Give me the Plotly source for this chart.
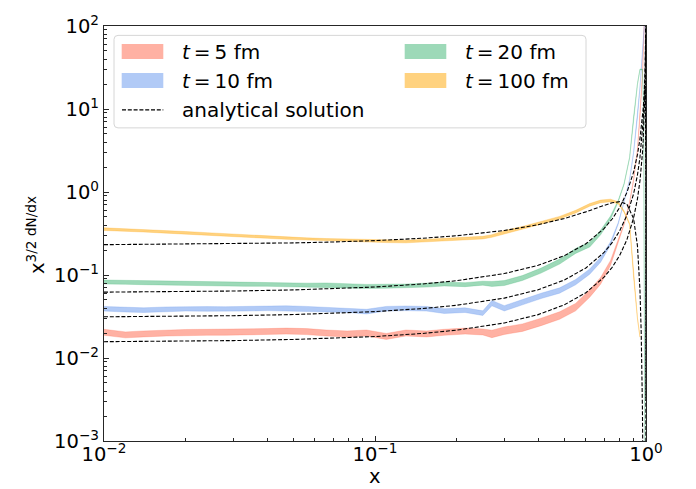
import plotly.graph_objects as go

# ---------------- data ----------------
xs = [0.010, 0.012, 0.014, 0.017, 0.020, 0.024, 0.028, 0.033, 0.040, 0.047,
      0.056, 0.066, 0.079, 0.093, 0.11, 0.13, 0.155, 0.18, 0.215, 0.25,
      0.27, 0.30, 0.35, 0.41, 0.48, 0.55, 0.62, 0.68, 0.74, 0.79,
      0.83, 0.87, 0.90, 0.93, 0.95, 0.97, 0.98, 0.99, 0.995]

t5_mid = [0.0204, 0.0190, 0.0195, 0.0200, 0.0203, 0.0204, 0.0204, 0.0206, 0.0208, 0.0211,
          0.0208, 0.0200, 0.0195, 0.0200, 0.0182, 0.0200, 0.0195, 0.0204, 0.0211, 0.0206,
          0.0195, 0.0213, 0.0232, 0.0272, 0.0325, 0.0410, 0.0600, 0.0850, 0.140, 0.260,
          0.410, 0.750, 1.40, 3.20, 8.0, 25.0, 60.0, 150.0, 300.0]
t10_mid = [0.0392, 0.0382, 0.0377, 0.0387, 0.0392, 0.0390, 0.0389, 0.0392, 0.0397, 0.0399,
           0.0392, 0.0382, 0.0377, 0.0362, 0.0392, 0.0397, 0.0392, 0.0367, 0.0377, 0.0347,
           0.0458, 0.0397, 0.0470, 0.0560, 0.0650, 0.0820, 0.110, 0.153, 0.240, 0.420,
           0.750, 1.40, 3.00, 8.00, 18.0, 45.0, 80.0, 120.0, 100.0]
t20_mid = [0.0824, 0.0816, 0.0808, 0.0797, 0.0787, 0.0780, 0.0776, 0.0772, 0.0772, 0.0765,
           0.0755, 0.0759, 0.0736, 0.0729, 0.0733, 0.0736, 0.0755, 0.0780, 0.0765, 0.0797,
           0.0780, 0.0800, 0.0920, 0.113, 0.145, 0.195, 0.233, 0.325, 0.490, 0.780,
           1.25, 2.60, 8.00, 20.0, 30.0, 30.0, 10.0, 0.001, None]
t100_mid = [0.357, 0.349, 0.342, 0.331, 0.322, 0.312, 0.303, 0.295, 0.287, 0.279,
            0.270, 0.265, 0.261, 0.260, 0.255, 0.253, 0.260, 0.265, 0.274, 0.282,
            0.295, 0.330, 0.370, 0.425, 0.490, 0.580, 0.700, 0.770, 0.790, 0.740,
            0.580, 0.410, 0.095, 0.030, 0.018, None, None, None, None]

# band half-widths (log10 units)
t5_w = [0.036] * 20 + [0.045] * 7 + [0.040, 0.030, 0.015, 0.008] + [0.005] * 8
t10_w = [0.028] * 20 + [0.032] * 7 + [0.030, 0.020, 0.010, 0.006] + [0.004] * 8
t20_w = [0.024] * 20 + [0.030] * 7 + [0.028, 0.020, 0.010, 0.006] + [0.004] * 8
t100_w = [0.016] * 29 + [0.012, 0.010, 0.008, 0.006, 0.005, 0.004, 0.004, 0.004, 0.004, 0.004]

# analytical solution curves
xa = [0.01, 0.02, 0.03, 0.05, 0.07, 0.1, 0.15, 0.2, 0.3, 0.4, 0.5, 0.6, 0.7, 0.75, 0.8,
      0.85, 0.9, 0.93, 0.95, 0.96, 0.97, 0.975, 0.98, 0.985, 0.99, 0.993, 0.995, 0.997,
      0.998, 0.999, 0.9995, 0.9998, 0.9999]
an_t5 = [0.015723, 0.015965, 0.016212, 0.016726, 0.017268, 0.018139, 0.019761, 0.021641,
         0.026437, 0.033309, 0.043775, 0.061154, 0.094093, 0.123626, 0.172642, 0.265467,
         0.486468, 0.827946, 1.36559, 1.901283, 2.90886, 3.805, 5.277099, 8.023064,
         14.37313, 23.76073, 37.6974, 73.34631, 118.812, 230.43, 306.42, 125.84, 8.17]
an_t10 = [0.031375, 0.031856, 0.032348, 0.033373, 0.034453, 0.036186, 0.039417, 0.043161,
          0.052704, 0.066367, 0.087153, 0.121617, 0.186771, 0.245023, 0.341397, 0.52298,
          0.951153, 1.603189, 2.61026, 3.593296, 5.394775, 6.95, 9.424527, 13.79785,
          22.92177, 34.38892, 47.93623, 68.96601, 76.60906, 47.88539, 6.61726, 0.003051, None]
an_t20 = [0.062179, 0.063125, 0.064096, 0.066113, 0.068238, 0.071647, 0.077999, 0.085349,
          0.104053, 0.130745, 0.171178, 0.237788, 0.362433, 0.472611, 0.652562, 0.984672,
          1.73759, 2.817242, 4.355568, 5.730443, 7.978011, 9.676, 11.98418, 15.08777,
          18.53186, 18.86102, 15.66554, 6.7363, 1.65428, 0.011156, 1.8e-7, None, None]
an_t100 = [0.23199, 0.23482, 0.23771, 0.24365, 0.24984, 0.25961, 0.27732, 0.29705,
           0.34388, 0.40328, 0.47937, 0.5761, 0.68967, 0.74127, 0.7661, 0.71317,
           0.47885, 0.22418, 0.066172, 0.020436, 0.0025431, 0.000446, 3.05e-5,
           None, None, None, None, None, None, None, None, None, None]

labels = ["<i>t</i>\u2009=\u20095 fm", "<i>t</i>\u2009=\u200910 fm",
          "<i>t</i>\u2009=\u200920 fm", "<i>t</i>\u2009=\u2009100 fm"]
analytic_label = "analytical solution"
xtick_vals = [0.01, 0.1, 1]
xtick_text = ["10<sup>\u22122</sup>", "10<sup>\u22121</sup>", "10<sup>0</sup>"]
ytick_vals = [1e-3, 1e-2, 1e-1, 1, 10, 100]
ytick_text = ["10<sup>\u22123</sup>", "10<sup>\u22122</sup>", "10<sup>\u22121</sup>",
              "10<sup>0</sup>", "10<sup>1</sup>", "10<sup>2</sup>"]

colors = ["rgba(255,99,71,0.5)", "rgba(100,149,237,0.5)",
          "rgba(60,179,113,0.5)", "rgba(255,165,0,0.5)"]

# ---------------- figure ----------------
W, H = 696, 489
L, R, T, B = 104, 50, 12, 48
PW, PH = W - L - R, H - T - B


def px(x):
    return (x - L) / PW


def py(y):
    return 1 - (y - T) / PH


FONT = "DejaVu Sans"
fig = go.Figure()

for mid, w, col in zip([t5_mid, t10_mid, t20_mid, t100_mid],
                       [t5_w, t10_w, t20_w, t100_w], colors):
    sel = [i for i, v in enumerate(mid) if v is not None]
    xx = [xs[i] for i in sel]
    hi = [mid[i] * 10 ** w[i] for i in sel]
    lo = [mid[i] / 10 ** w[i] for i in sel]
    fig.add_trace(go.Scatter(x=xx + xx[::-1], y=hi + lo[::-1], fill="toself",
                             fillcolor=col, mode="lines",
                             line=dict(color=col, width=0.5),
                             hoverinfo="skip", showlegend=False))

for ys in [an_t5, an_t10, an_t20, an_t100]:
    fig.add_trace(go.Scatter(x=xa, y=ys, mode="lines", connectgaps=False,
                             line=dict(color="black", width=1.1, dash="4px,1.8px"),
                             hoverinfo="skip", showlegend=False))

minor_x = [k * 10 ** n for n in (-2, -1) for k in range(2, 10)]
minor_y = [k * 10 ** n for n in (-3, -2, -1, 0, 1) for k in range(2, 10)]

axis_common = dict(type="log", showline=True, linecolor="#262626", linewidth=1.1,
                   mirror=True, ticks="inside", ticklen=5, tickwidth=1,
                   tickcolor="#262626", showgrid=False, zeroline=False,
                   tickmode="array", ticklabeloverflow="allow",
                   tickfont=dict(family=FONT, size=19.5, color="black"))

fig.update_xaxes(**axis_common, range=[-2, 0], tickvals=xtick_vals, ticktext=xtick_text,
                 ticklabelstandoff=-4,
                 minor=dict(tickmode="array", tickvals=minor_x, ticks="inside",
                            ticklen=3, tickcolor="#262626", showgrid=False))
fig.update_yaxes(**axis_common, range=[-3, 2], tickvals=ytick_vals, ticktext=ytick_text,
                 minor=dict(tickmode="array", tickvals=minor_y, ticks="inside",
                            ticklen=3, tickcolor="#262626", showgrid=False))

shapes = []
annotations = []

# legend frame (rounded)
x0, x1, y0, y1 = px(114), px(586), py(117.3), py(21.7)
rx, ry = 4 / PW, 4 / PH
path = (f"M {x0+rx},{y0} L {x1-rx},{y0} Q {x1},{y0} {x1},{y0+ry} "
        f"L {x1},{y1-ry} Q {x1},{y1} {x1-rx},{y1} L {x0+rx},{y1} "
        f"Q {x0},{y1} {x0},{y1-ry} L {x0},{y0+ry} Q {x0},{y0} {x0+rx},{y0} Z")
shapes.append(dict(type="path", path=path, xref="paper", yref="paper",
                   fillcolor="rgba(255,255,255,0.85)",
                   line=dict(color="#d6d6d6", width=1), layer="above"))

entries = [(0, 0), (0, 1), (1, 0), (1, 1)]  # (col,row) for t5,t10,t20,t100
col_patch_x = [121.7, 404.7]
col_text_x = [180, 463]
row_patch_y = [(30.7, 46.0), (60.7, 76.0)]
row_text_y = [38.4, 68.4, 98.7]
for (c, r), col, lab in zip(entries, colors, labels):
    shapes.append(dict(type="rect", xref="paper", yref="paper",
                       x0=px(col_patch_x[c]), x1=px(col_patch_x[c] + 41.6),
                       y0=py(row_patch_y[r][1]), y1=py(row_patch_y[r][0]),
                       fillcolor=col, line=dict(width=0), layer="above"))
    annotations.append(dict(text=lab, xref="paper", yref="paper",
                            x=px(col_text_x[c]), y=py(row_text_y[r]),
                            xanchor="left", yanchor="middle", showarrow=False,
                            font=dict(family=FONT, size=20, color="black")))

shapes.append(dict(type="line", xref="paper", yref="paper",
                   x0=px(122), x1=px(163.3), y0=py(98.7), y1=py(98.7),
                   line=dict(color="black", width=1.1, dash="4px,1.8px"),
                   layer="above"))
annotations.append(dict(text=analytic_label, xref="paper", yref="paper",
                        x=px(180), y=py(row_text_y[2]), xanchor="left",
                        yanchor="middle", showarrow=False,
                        font=dict(family=FONT, size=20, color="black")))

# axis labels
annotations.append(dict(text="x", xref="paper", yref="paper",
                        x=px(374.5), y=py(478), xanchor="center", yanchor="middle",
                        showarrow=False, font=dict(family=FONT, size=19.5, color="black")))
annotations.append(dict(text="x<sup>3/2 dN/dx</sup>", xref="paper", yref="paper",
                        x=px(36), y=py(228), xanchor="center", yanchor="middle",
                        textangle=-90, showarrow=False,
                        font=dict(family=FONT, size=19.5, color="black")))

fig.update_layout(width=W, height=H, margin=dict(l=L, r=R, t=T, b=B),
                  paper_bgcolor="white", plot_bgcolor="white",
                  showlegend=False, shapes=shapes, annotations=annotations,
                  font=dict(family=FONT, color="black"))

fig.write_html("out.html", config={"displayModeBar": False},
               post_script="document.body.style.margin='0px';"
                           "document.body.style.overflow='hidden';")
